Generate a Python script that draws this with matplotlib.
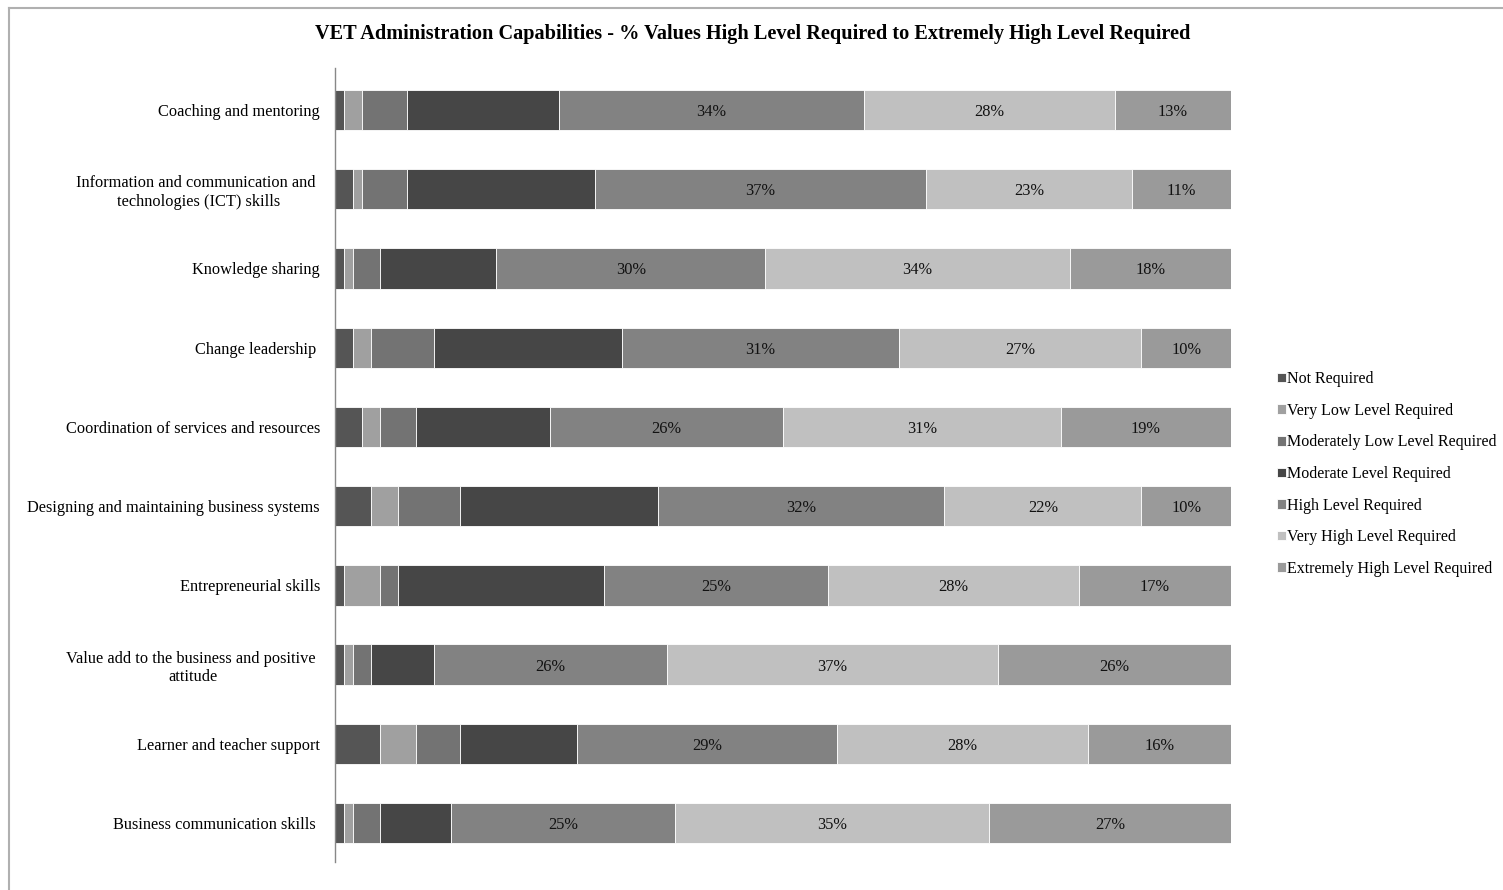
import matplotlib
matplotlib.use("Agg")
import matplotlib.pyplot as plt
from matplotlib.lines import Line2D

categories = [
    "Coaching and mentoring",
    "Information and communication and \ntechnologies (ICT) skills",
    "Knowledge sharing",
    "Change leadership ",
    "Coordination of services and resources",
    "Designing and maintaining business systems",
    "Entrepreneurial skills",
    "Value add to the business and positive \nattitude",
    "Learner and teacher support",
    "Business communication skills ",
]
series_names = [
    "Not Required",
    "Very Low Level Required",
    "Moderately Low Level Required",
    "Moderate Level Required",
    "High Level Required",
    "Very High Level Required",
    "Extremely High Level Required",
]
not_required = [1, 2, 1, 2, 3, 4, 1, 1, 5, 1]
very_low = [2, 1, 1, 2, 2, 3, 4, 1, 4, 1]
moderately_low = [5, 5, 3, 7, 4, 7, 2, 2, 5, 3]
moderate = [17, 21, 13, 21, 15, 22, 23, 7, 13, 8]
high = [34, 37, 30, 31, 26, 32, 25, 26, 29, 25]
very_high = [28, 23, 34, 27, 31, 22, 28, 37, 28, 35]
extremely_high = [13, 11, 18, 10, 19, 10, 17, 26, 16, 27]

series = [not_required, very_low, moderately_low, moderate, high, very_high, extremely_high]
colors = ["#555555", "#a0a0a0", "#737373", "#464646", "#828282", "#c0c0c0", "#9a9a9a"]
labelled = [False, False, False, False, True, True, True]

serif = ["Liberation Serif", "DejaVu Serif"]
plt.rcParams["font.family"] = serif

fig = plt.figure(figsize=(15.03, 8.9), dpi=100)
ax = fig.add_axes([335 / 1503, 1 - 862 / 890, (1231 - 335) / 1503, (862 - 68) / 890])

y = list(range(len(categories)))
left = [0.0] * len(categories)
for vals, col, name, lab in zip(series, colors, series_names, labelled):
    ax.barh(y, vals, left=left, height=0.51, color=col, label=name,
            edgecolor="white", linewidth=0.6)
    if lab:
        for i, v in enumerate(vals):
            ax.text(left[i] + v / 2, i, f"{v}%", ha="center", va="center_baseline",
                    fontsize=11.8, color="#111111")
    left = [l + v for l, v in zip(left, vals)]

ax.set_xlim(0, 100)
ax.set_ylim(9.49, -0.53)
ax.set_yticks(y)
ax.set_yticklabels(categories, fontsize=11.8, multialignment="center")
ax.tick_params(axis="y", length=0, pad=10.8)
ax.set_xticks([])
for s in ["top", "right", "bottom"]:
    ax.spines[s].set_visible(False)
ax.spines["left"].set_color("#888888")
ax.spines["left"].set_linewidth(1.0)

fig.text(753 / 1503, 1 - 34 / 890,
         "VET Administration Capabilities - % Values High Level Required to Extremely High Level Required",
         ha="center", va="center", fontsize=14.6, fontweight="bold")

handles, labels_ = ax.get_legend_handles_labels()
fig.legend(handles, labels_, loc="center left", bbox_to_anchor=(1277 / 1503, 1 - 474 / 890),
           frameon=False, fontsize=11.5, handlelength=0.55, handleheight=0.55,
           handletextpad=0.1, labelspacing=0.98, borderaxespad=0, borderpad=0)

# outer chart border (top and left visible)
fig.add_artist(Line2D([9 / 1503, 9 / 1503], [0, 1 - 8 / 890], transform=fig.transFigure,
                      color="#b0b0b0", linewidth=1.5))
fig.add_artist(Line2D([9 / 1503, 1], [1 - 8 / 890, 1 - 8 / 890], transform=fig.transFigure,
                      color="#b0b0b0", linewidth=1.5))

fig.savefig("out.png", dpi=100, facecolor="white")
